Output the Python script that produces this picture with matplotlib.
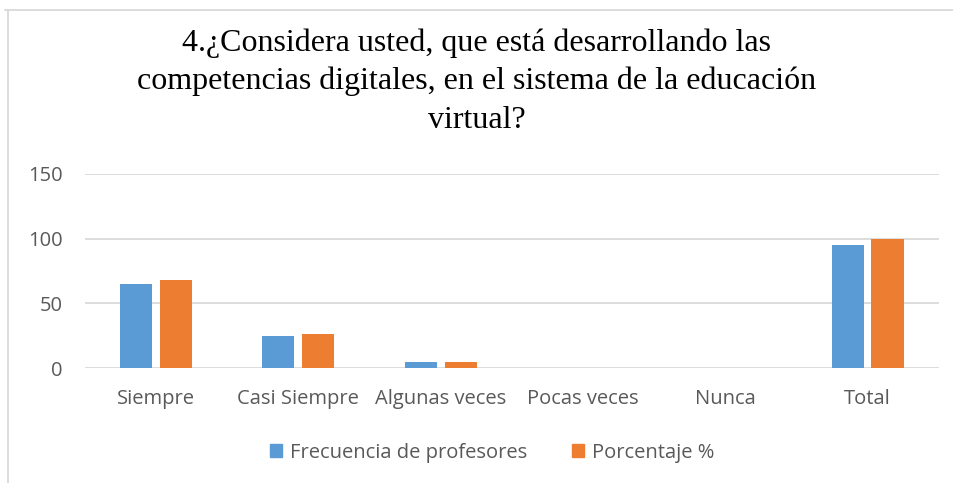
import matplotlib.pyplot as plt
import numpy as np
from matplotlib.lines import Line2D
from matplotlib.patches import Patch

# Data
categories = ['Siempre', 'Casi Siempre', 'Algunas veces', 'Pocas veces', 'Nunca', 'Total']
frecuencia = [65, 25, 5, 0, 0, 95]
porcentaje = [68, 26, 5, 0, 0, 100]
y_ticks = [0, 50, 100, 150]

blue = '#5B9BD5'
orange = '#ED7D31'
text_gray = '#595959'
grid_gray = '#D9D9D9'

fig = plt.figure(figsize=(9.54, 4.83), dpi=100)
ax = fig.add_axes([0.089, 0.238, 0.895, 0.402])

x = np.arange(len(categories))
w = 0.225
gap = 0.055
ax.bar(x - (w + gap) / 2, frecuencia, width=w, color=blue, zorder=3,
       label='Frecuencia de profesores')
ax.bar(x + (w + gap) / 2, porcentaje, width=w, color=orange, zorder=3,
       label='Porcentaje %')

ax.set_xlim(-0.5, len(categories) - 0.5)
ax.set_ylim(0, 150)
ax.set_yticks(y_ticks)
ax.set_xticks(x)
ax.set_xticklabels(categories)
ax.grid(axis='y', color=grid_gray, linewidth=1.3, zorder=0)
for s in ax.spines.values():
    s.set_visible(False)
ax.tick_params(length=0, labelsize=14.5, colors=text_gray, labelfontfamily='Open Sans')
ax.tick_params(axis='x', pad=15)
ax.tick_params(axis='y', pad=16)

fig.text(0.5, 0.942, '4.¿Considera usted, que está desarrollando las\n'
         'competencias digitales, en el sistema de la educación\nvirtual?',
         ha='center', va='top', fontsize=23, family='Liberation Serif',
         linespacing=1.42, color='black')

handles = [Patch(color=blue, label='Frecuencia de profesores'),
           Patch(color=orange, label='Porcentaje %')]
fig.legend(handles=handles, loc='center', bbox_to_anchor=(0.516, 0.063), ncol=2,
           frameon=False, prop={'family': 'Open Sans', 'size': 14.5},
           labelcolor=text_gray, handlelength=0.6, handleheight=0.6,
           handletextpad=0.4, columnspacing=2.2)

# chart border (left and top visible)
fig.add_artist(Line2D([0.0085, 0.0085], [0.0, 0.979], color=grid_gray, linewidth=1.3,
                      transform=fig.transFigure))
fig.add_artist(Line2D([0.005, 1.0], [0.979, 0.979], color=grid_gray, linewidth=1.3,
                      transform=fig.transFigure))

fig.savefig('out.png', dpi=100, facecolor='white')
